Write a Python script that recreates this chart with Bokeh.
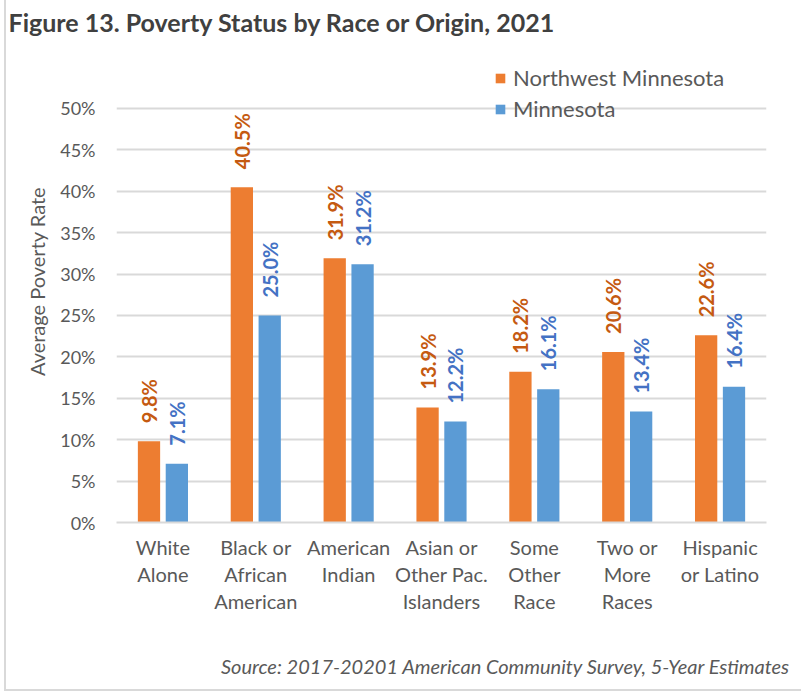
from bokeh.plotting import figure
from bokeh.models import (ColumnDataSource, Legend, LegendItem, NumeralTickFormatter,
                          FixedTicker, Title, CategoricalAxis, CustomJSTickFormatter)
from bokeh.transform import dodge
from bokeh.core.properties import value
from bokeh.embed import file_html
from bokeh.resources import INLINE
import math

categories = ["White Alone", "Black or African American", "American Indian",
              "Asian or Other Pac. Islanders", "Some Other Race", "Two or More Races",
              "Hispanic or Latino"]
tick_line1 = ["White", "Black or", "American", "Asian or", "Some", "Two or", "Hispanic"]
tick_line2 = ["Alone", "African", "Indian", "Other Pac.", "Other", "More", "or Latino"]
tick_line3 = [" ", "American", " ", "Islanders", "Race", "Races", " "]
northwest_mn = [0.098, 0.405, 0.319, 0.139, 0.182, 0.206, 0.226]
minnesota = [0.071, 0.250, 0.312, 0.122, 0.161, 0.134, 0.164]
series_names = ["Northwest Minnesota", "Minnesota"]
y_ticks = [0, 0.05, 0.10, 0.15, 0.20, 0.25, 0.30, 0.35, 0.40, 0.45, 0.50]

ORANGE = "#ED7D31"
BLUE = "#5B9BD5"
ORANGE_TXT = "#C55A11"
BLUE_TXT = "#4472C4"
GRAY_TXT = "#595959"
FONT = "Lato"

src = ColumnDataSource(dict(
    cat=categories, nw=northwest_mn, mn=minnesota,
    nw_lbl=[f"{v*100:.1f}%" for v in northwest_mn],
    mn_lbl=[f"{v*100:.1f}%" for v in minnesota],
))

# frame: x 116..766, y 40..522 (0% at 522, 50% at 108); headroom holds the legend
p = figure(x_range=categories, y_range=(0, 0.5821), width=801, height=692,
           output_backend="svg", toolbar_location=None,
           min_border_left=116, min_border_right=35, min_border_top=40,
           min_border_bottom=170)
p.outline_line_color = None
p.background_fill_color = "white"
p.border_fill_color = None
p.styles = {"background-color": "white",
            "box-shadow": "inset 4px -1px 0 0 #ffffff, inset 6px -3px 0 0 #D9D9D9"}

r1 = p.vbar(x=dodge("cat", -0.15, range=p.x_range), top="nw", width=0.24, source=src,
            fill_color=ORANGE, line_color=None)
r2 = p.vbar(x=dodge("cat", 0.15, range=p.x_range), top="mn", width=0.24, source=src,
            fill_color=BLUE, line_color=None)

for col, lbl, dx, c in [("nw", "nw_lbl", -0.15, ORANGE_TXT), ("mn", "mn_lbl", 0.15, BLUE_TXT)]:
    p.text(x=dodge("cat", dx, range=p.x_range), y=col, text=lbl, source=src,
           angle=math.pi / 2, text_align="left", text_baseline="middle",
           y_offset=-18, text_font=value(FONT), text_font_style="bold",
           text_font_size="20px", text_color=c)

# y axis
p.yaxis.ticker = FixedTicker(ticks=y_ticks)
p.yaxis.formatter = NumeralTickFormatter(format="0%")
p.yaxis.axis_line_color = None
p.yaxis.major_tick_line_color = None
p.yaxis.minor_tick_line_color = None
p.yaxis.major_tick_out = 0
p.yaxis.major_label_text_font = FONT
p.yaxis.major_label_text_font_size = "18px"
p.yaxis.major_label_text_color = GRAY_TXT
p.yaxis.major_label_standoff = 21
p.yaxis.axis_label = "Average Poverty Rate"
p.yaxis.axis_label_text_font = FONT
p.yaxis.axis_label_text_font_style = "normal"
p.yaxis.axis_label_text_font_size = "20px"
p.yaxis.axis_label_text_color = GRAY_TXT
p.yaxis.axis_label_standoff = 8

# x axis: three stacked axes give the three lines of each category label
def style_xaxis(ax, lines, standoff):
    ax.formatter = CustomJSTickFormatter(
        args=dict(cats=categories, labs=lines),
        code="const i = cats.indexOf(tick); return i >= 0 ? labs[i] : tick;")
    ax.major_tick_line_color = None
    ax.minor_tick_line_color = None
    ax.major_tick_out = 0
    ax.major_tick_in = 0
    ax.major_label_text_font = FONT
    ax.major_label_text_font_size = "20px"
    ax.major_label_text_color = GRAY_TXT
    ax.major_label_standoff = standoff
    ax.major_label_orientation = "horizontal"

xa = p.xaxis[0]
style_xaxis(xa, tick_line1, 12)
xa.axis_line_color = "#D9D9D9"
xa.axis_line_width = 2
for lines, so in [(tick_line2, 0), (tick_line3, 0)]:
    ax = CategoricalAxis()
    style_xaxis(ax, lines, so)
    ax.axis_line_color = None
    p.add_layout(ax, "below")

p.xgrid.grid_line_color = None
p.ygrid.grid_line_color = "#D9D9D9"
p.ygrid.grid_line_width = 2

# title
p.title.text = "Figure 13. Poverty Status by Race or Origin, 2021"
p.title.text_font = FONT
p.title.text_font_size = "25px"
p.title.text_font_style = "bold"
p.title.text_color = "#404040"
p.title.offset = -108
p.title.standoff = 8

# spacer between category labels and source note, then the source note
p.add_layout(Title(text=" ", text_font_size="1px", standoff=23), "below")
p.add_layout(Title(text="Source: 2017-20201 American Community Survey, 5-Year Estimates",
                   align="right", text_font=FONT, text_font_style="italic",
                   text_font_size="20px", text_color=GRAY_TXT, standoff=20,
                   offset=-24), "below")

legend = Legend(items=[LegendItem(label=series_names[0], renderers=[r1]),
                       LegendItem(label=series_names[1], renderers=[r2])],
                location=(378, 400), border_line_color=None, background_fill_alpha=0,
                label_text_font=FONT, label_text_font_size="22px",
                label_text_color=GRAY_TXT, glyph_width=12, glyph_height=12,
                spacing=4, padding=0, margin=0, label_standoff=7)
p.add_layout(legend, "center")

open("out.html", "w").write(file_html(p, INLINE))
